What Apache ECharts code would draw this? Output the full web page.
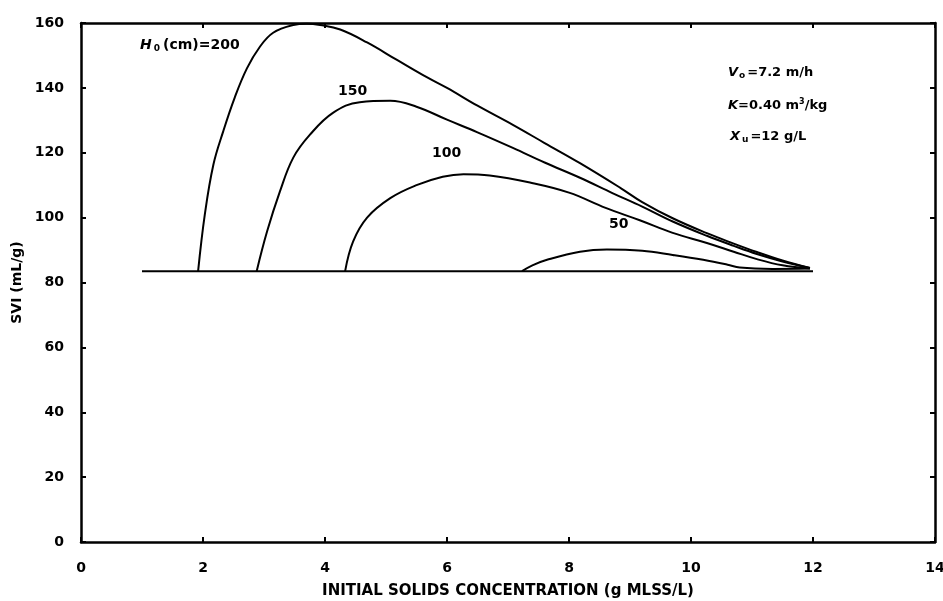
<!DOCTYPE html>
<html>
<head>
<meta charset="utf-8">
<script src="https://cdn.jsdelivr.net/npm/echarts@6/dist/echarts.min.js"></script>
<style>
  html, body { margin: 0; padding: 0; background: #fff; }
  #chart { width: 943px; height: 601px; }
</style>
</head>
<body>
<div id="chart"></div>
<script>
// axis ticks
var xTicks = [0, 2, 4, 6, 8, 10, 12, 14];
var yTicks = [0, 20, 40, 60, 80, 100, 120, 140, 160];

// flat line at the feed SVI, 1 to 12 g/L
var baseLine = [[1.0, 83.5], [12.0, 83.5]];

// H0 = 200 cm
var h200 = [[1.92, 83.5], [2.03, 101], [2.17, 116.3], [2.33, 126.5], [2.52, 137], [2.72, 146],
  [2.93, 152.6], [3.15, 157], [3.48, 159.4], [3.7, 159.8], [3.92, 159.4], [4.25, 158],
  [4.69, 154], [5.18, 148.6], [5.6, 144], [6.0, 140], [6.5, 134.5], [7.08, 128.6],
  [7.6, 123], [8.18, 116.8], [8.84, 109.2], [9.2, 104.8], [9.7, 99.8], [10.26, 95.2],
  [10.7, 92], [11.08, 89.4], [11.5, 86.8], [11.95, 84.5]];

// H0 = 150 cm
var h150 = [[2.88, 83.5], [3.05, 95.7], [3.26, 108], [3.48, 118.5], [3.75, 125.5],
  [4.13, 132.3], [4.57, 135.6], [5.07, 136], [5.5, 134.2], [6.0, 130.2], [6.5, 126.3],
  [7.08, 121.5], [7.6, 117], [8.18, 112.3], [8.72, 107.5], [9.2, 103.4], [9.7, 98.8],
  [10.26, 94.4], [10.7, 91.3], [11.08, 88.8], [11.5, 86.5], [11.95, 84.5]];

// H0 = 100 cm
var h100 = [[4.33, 83.5], [4.46, 92.6], [4.69, 100], [5.07, 106], [5.5, 110], [5.93, 112.6],
  [6.27, 113.4], [6.7, 113], [7.36, 110.8], [8.0, 107.7], [8.6, 103], [9.16, 99.2],
  [9.7, 95.3], [10.26, 92.2], [10.7, 89.5], [11.08, 87.2], [11.5, 85.3], [11.95, 84.3]];

// H0 = 50 cm
var h50 = [[7.23, 83.5], [7.4, 85.3], [7.64, 87], [8.18, 89.5], [8.62, 90.2], [9.2, 89.8],
  [9.7, 88.5], [10.2, 87], [10.6, 85.5], [10.8, 84.6], [11.34, 84.2], [11.95, 84.3]];

var chart = echarts.init(document.getElementById('chart'));
var FONT = '"DejaVu Sans", "Liberation Sans", Arial, sans-serif';

function curve(name, data) {
  return {
    name: name,
    type: 'line',
    data: data,
    smooth: 0.4,
    symbol: 'none',
    lineStyle: { color: '#000', width: 2 },
    silent: true
  };
}

var axisLine = { show: true, onZero: false, lineStyle: { color: '#000', width: 2.5 } };
var axisTick = { show: true, inside: true, length: 5, lineStyle: { color: '#000', width: 2 } };

function boldText(size) {
  return { fontWeight: 'bold', fontSize: size, fontFamily: FONT, fill: '#000' };
}

var option = {
  animation: false,
  backgroundColor: '#fff',
  grid: { left: 81, right: 8, top: 23, bottom: 59, containLabel: false, outerBoundsMode: 'none' },
  xAxis: [
    {
      type: 'value', min: 0, max: 14, interval: 2,
      name: 'INITIAL SOLIDS CONCENTRATION (g MLSS/L)',
      nameLocation: 'middle', nameGap: 42,
      nameTextStyle: { color: '#000', fontWeight: 'bold', fontSize: 15, fontFamily: FONT },
      axisLine: axisLine, axisTick: axisTick,
      axisLabel: { color: '#000', fontWeight: 'bold', fontSize: 14, fontFamily: FONT, margin: 19,
        formatter: function (v) { return xTicks.indexOf(v) >= 0 ? String(v) : ''; } },
      splitLine: { show: false }
    },
    {
      type: 'value', min: 0, max: 14, interval: 2, position: 'top',
      axisLine: axisLine, axisTick: axisTick,
      axisLabel: { show: false }, splitLine: { show: false }
    }
  ],
  yAxis: [
    {
      type: 'value', min: 0, max: 160, interval: 20,
      name: 'SVI (mL/g)',
      nameLocation: 'middle', nameGap: 56, nameRotate: 90,
      nameTextStyle: { color: '#000', fontWeight: 'bold', fontSize: 14, fontFamily: FONT },
      axisLine: axisLine, axisTick: axisTick,
      axisLabel: { color: '#000', fontWeight: 'bold', fontSize: 14, fontFamily: FONT, margin: 17,
        formatter: function (v) { return yTicks.indexOf(v) >= 0 ? String(v) : ''; } },
      splitLine: { show: false }
    },
    {
      type: 'value', min: 0, max: 160, interval: 20, position: 'right',
      axisLine: axisLine, axisTick: axisTick,
      axisLabel: { show: false }, splitLine: { show: false }
    }
  ],
  series: [
    {
      name: 'base', type: 'line', data: baseLine, symbol: 'none',
      lineStyle: { color: '#000', width: 2 }, silent: true
    },
    curve('200', h200),
    curve('150', h150),
    curve('100', h100),
    curve('50', h50)
  ],
  graphic: [
    {
      type: 'text', left: 140, top: 38,
      style: {
        text: '{i|H}{s|0}{n|(cm)=200}',
        rich: {
          i: Object.assign(boldText(14), { fontStyle: 'italic' }),
          s: Object.assign(boldText(9), { padding: [7, 3, 0, 2] }),
          n: boldText(14)
        }
      }
    },
    { type: 'text', left: 338, top: 84, style: { text: '150', font: 'bold 14px ' + FONT, fill: '#000' } },
    { type: 'text', left: 432, top: 146, style: { text: '100', font: 'bold 14px ' + FONT, fill: '#000' } },
    { type: 'text', left: 609, top: 217, style: { text: '50', font: 'bold 14px ' + FONT, fill: '#000' } },
    {
      type: 'text', left: 728, top: 66,
      style: {
        text: '{i|V}{s|o}{n|=7.2 m/h}',
        rich: {
          i: Object.assign(boldText(13), { fontStyle: 'italic' }),
          s: Object.assign(boldText(9), { padding: [6, 2, 0, 1] }),
          n: boldText(13)
        }
      }
    },
    {
      type: 'text', left: 728, top: 98,
      style: {
        text: '{i|K}{n|=0.40 m}{p|3}{n|/kg}',
        rich: {
          i: Object.assign(boldText(13), { fontStyle: 'italic' }),
          p: Object.assign(boldText(8), { padding: [0, 0, 8, 0] }),
          n: boldText(13)
        }
      }
    },
    {
      type: 'text', left: 730, top: 130,
      style: {
        text: '{i|X}{s|u}{n|=12 g/L}',
        rich: {
          i: Object.assign(boldText(13), { fontStyle: 'italic' }),
          s: Object.assign(boldText(9), { padding: [6, 2, 0, 2] }),
          n: boldText(13)
        }
      }
    }
  ]
};

chart.setOption(option);
</script>
</body>
</html>
